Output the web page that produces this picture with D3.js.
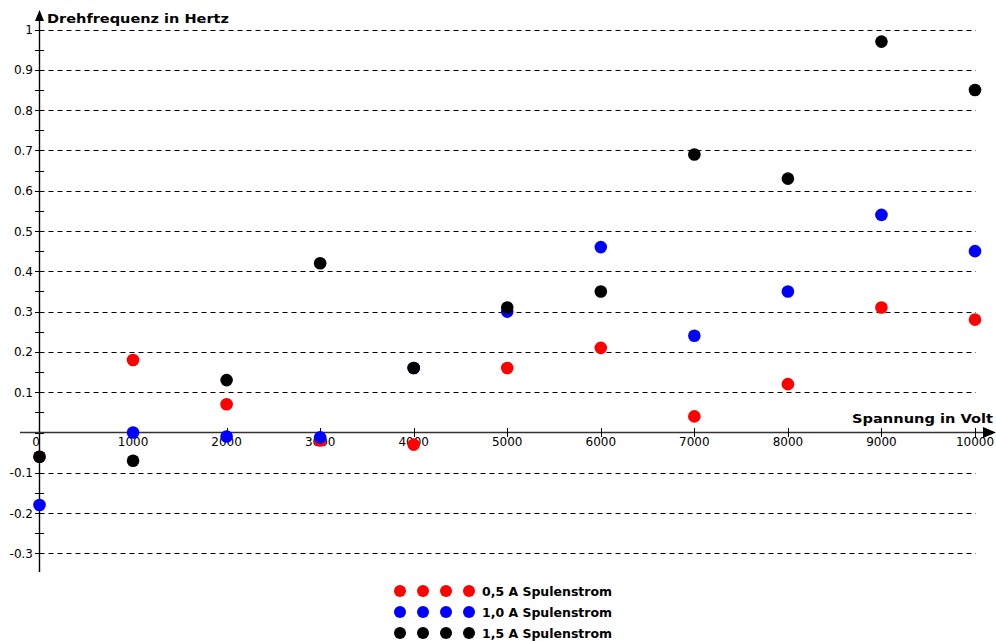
<!DOCTYPE html>
<html><head><meta charset="utf-8">
<script src="https://cdn.jsdelivr.net/npm/d3@7"></script>
<style>body{margin:0;background:#fff}svg{display:block}</style>
</head><body>
<script>
const voltages = [0,1000,2000,3000,4000,5000,6000,7000,8000,9000,10000];
const red05 = [-0.06,0.18,0.07,-0.02,-0.03,0.16,0.21,0.04,0.12,0.31,0.28];
const blue10 = [-0.18,0.00,-0.01,-0.012,0.16,0.30,0.46,0.24,0.35,0.54,0.45];
const black15 = [-0.06,-0.07,0.13,0.42,0.16,0.31,0.35,0.69,0.63,0.97,0.85];
const seriesNames = ["0,5 A Spulenstrom","1,0 A Spulenstrom","1,5 A Spulenstrom"];
const seriesColors = ["#ff0000","#0000ff","#000000"];
const yTicks = [-0.3,-0.2,-0.1,0,0.1,0.2,0.3,0.4,0.5,0.6,0.7,0.8,0.9,1];
const yTickLabels = ["-0.3","-0.2","-0.1","","0.1","0.2","0.3","0.4","0.5","0.6","0.7","0.8","0.9","1"];
const xTickLabels = ["0","1000","2000","3000","4000","5000","6000","7000","8000","9000","10000"];

const W=996,H=641;
const svg=d3.select("body").append("svg").attr("width",W).attr("height",H);
const x=d3.scaleLinear().domain([0,10000]).range([39.5,975]);
const y=d3.scaleLinear().domain([0,1]).range([432.5,29.5]);
const font="DejaVu Sans, Verdana, sans-serif";

// gridlines
svg.append("g").selectAll("line").data(yTicks.filter(d=>d!==0)).join("line")
  .attr("x1",x(0)).attr("x2",976).attr("y1",d=>Math.round(y(d))+0.5).attr("y2",d=>Math.round(y(d))+0.5)
  .attr("stroke","#000").attr("stroke-width",1).attr("stroke-dasharray","5,4");

// y axis line
svg.append("line").attr("x1",39.5).attr("x2",39.5).attr("y1",18).attr("y2",572).attr("stroke","#000").attr("stroke-width",1.4);
svg.append("path").attr("d","M39.5,10 L35,21 L44,21 Z").attr("fill","#000");
// y minor ticks
const yMinor=d3.range(-0.3,1.001,0.05);
svg.append("g").selectAll("line").data(yMinor).join("line")
  .attr("x1",35).attr("x2",44).attr("y1",d=>Math.round(y(d))+0.5).attr("y2",d=>Math.round(y(d))+0.5)
  .attr("stroke","#000").attr("stroke-width",1);
// y labels
svg.append("g").selectAll("text").data(yTicks).join("text")
  .attr("x",33).attr("y",d=>y(d)+4.5).attr("text-anchor","end")
  .attr("font-family",font).attr("font-size",12).attr("fill","#000")
  .text((d,i)=>yTickLabels[i]);

// x axis line
svg.append("line").attr("x1",20).attr("x2",985).attr("y1",432.5).attr("y2",432.5).attr("stroke","#333").attr("stroke-width",1.4);
svg.append("path").attr("d","M996,432.5 L983,427 L983,438 Z").attr("fill","#000");
svg.append("g").selectAll("line").data(voltages.slice(1)).join("line")
  .attr("x1",d=>Math.round(x(d))+0.5).attr("x2",d=>Math.round(x(d))+0.5).attr("y1",428).attr("y2",437)
  .attr("stroke","#000").attr("stroke-width",1);
svg.append("g").selectAll("text").data(voltages).join("text")
  .attr("x",(d,i)=>i===0?36:x(d)).attr("y",446).attr("text-anchor","middle")
  .attr("font-family",font).attr("font-size",12).attr("fill","#000")
  .text((d,i)=>xTickLabels[i]);

// axis titles
svg.append("text").attr("x",47).attr("y",23).attr("font-family",font).attr("font-weight","bold").attr("font-size",13)
  .attr("textLength",182).attr("lengthAdjust","spacingAndGlyphs").text("Drehfrequenz in Hertz");
svg.append("text").attr("x",852).attr("y",423).attr("font-family",font).attr("font-weight","bold").attr("font-size",13)
  .attr("textLength",141).attr("lengthAdjust","spacingAndGlyphs").text("Spannung in Volt");

// points
const series=[red05,blue10,black15];
series.forEach((vals,si)=>{
  svg.append("g").selectAll("circle").data(vals).join("circle")
    .attr("cx",(d,i)=>x(voltages[i])).attr("cy",d=>y(d)).attr("r",6.3).attr("fill",seriesColors[si]);
});

// legend
const lg=svg.append("g");
seriesNames.forEach((n,si)=>{
  const yy=591+si*21;
  [400,423,446,469].forEach(cx=>lg.append("circle").attr("cx",cx).attr("cy",yy).attr("r",6).attr("fill",seriesColors[si]));
  lg.append("text").attr("x",482).attr("y",yy+4.5).attr("font-family",font).attr("font-weight","bold").attr("font-size",12)
    .attr("textLength",130).attr("lengthAdjust","spacingAndGlyphs").text(n);
});
</script>
</body></html>
